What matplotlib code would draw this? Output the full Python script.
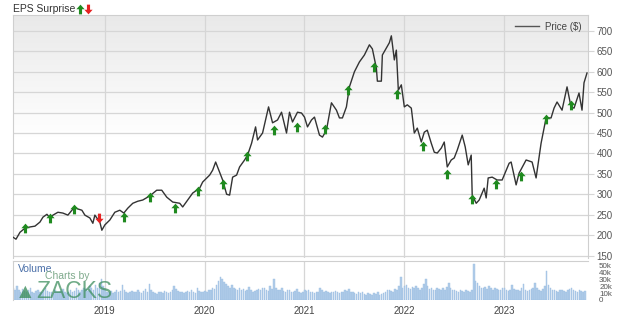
import matplotlib.pyplot as plt
import numpy as np
from matplotlib.path import Path
from matplotlib.colors import LinearSegmentedColormap

plt.rcParams['font.family'] = ['Liberation Sans', 'DejaVu Sans']

# price line (date as fractional year, price in $)
price_dates = [
    2018.08, 2018.11, 2018.15, 2018.20, 2018.25, 2018.30, 2018.35, 2018.38, 2018.42, 2018.45,
    2018.48, 2018.53, 2018.58, 2018.63, 2018.67, 2018.70, 2018.73, 2018.77, 2018.80, 2018.85,
    2018.88, 2018.90, 2018.92, 2018.95, 2018.97, 2019.00, 2019.05, 2019.10, 2019.15, 2019.19,
    2019.23, 2019.28, 2019.33, 2019.38, 2019.45, 2019.52, 2019.57, 2019.62, 2019.68, 2019.75,
    2019.78, 2019.83, 2019.88, 2019.95, 2019.98, 2020.05, 2020.08, 2020.11, 2020.15, 2020.18,
    2020.22, 2020.25, 2020.28, 2020.32, 2020.35, 2020.40, 2020.43, 2020.47, 2020.51, 2020.53,
    2020.58, 2020.64, 2020.68, 2020.73, 2020.77, 2020.82, 2020.85, 2020.88, 2020.93, 2020.97,
    2021.00, 2021.03, 2021.07, 2021.10, 2021.15, 2021.18, 2021.22, 2021.27, 2021.32, 2021.35,
    2021.38, 2021.42, 2021.45, 2021.50, 2021.55, 2021.60, 2021.65, 2021.68, 2021.72, 2021.73,
    2021.77, 2021.78, 2021.82, 2021.85, 2021.87, 2021.90, 2021.92, 2021.94, 2021.97, 2022.00,
    2022.03, 2022.07, 2022.10, 2022.13, 2022.17, 2022.20, 2022.23, 2022.27, 2022.30, 2022.33,
    2022.37, 2022.40, 2022.43, 2022.47, 2022.50, 2022.53, 2022.58, 2022.61, 2022.64, 2022.67,
    2022.68, 2022.72, 2022.75, 2022.80, 2022.82, 2022.84, 2022.88, 2022.93, 2022.98, 2023.05,
    2023.07, 2023.12, 2023.15, 2023.22, 2023.28, 2023.32, 2023.37, 2023.42, 2023.47, 2023.50,
    2023.53, 2023.58, 2023.63, 2023.67, 2023.70, 2023.75, 2023.78, 2023.80, 2023.83,
]
price_values = [
    195, 190, 207, 217, 220, 222, 232, 244, 251, 242,
    249, 256, 254, 249, 261, 269, 264, 261, 249, 242,
    229, 249, 242, 232, 212, 225, 237, 256, 261, 254,
    266, 278, 283, 286, 296, 310, 310, 293, 281, 278,
    269, 286, 303, 315, 330, 347, 359, 379, 354, 335,
    300, 298, 342, 347, 367, 384, 396, 425, 465, 433,
    450, 514, 475, 482, 501, 450, 501, 477, 501, 499,
    489, 465, 482, 489, 445, 440, 457, 524, 506, 487,
    487, 514, 563, 600, 624, 641, 666, 656, 609, 577,
    577, 641, 658, 671, 688, 629, 653, 555, 568, 514,
    519, 511, 450, 462, 428, 452, 457, 425, 403, 401,
    413, 428, 367, 384, 389, 408, 445, 416, 372, 396,
    298, 278, 286, 315, 291, 340, 342, 335, 335, 376,
    379, 323, 352, 384, 379, 340, 425, 487, 487, 511,
    526, 506, 563, 514, 511, 548, 506, 573, 597,
]

# EPS surprise markers
beat_dates = [2018.20, 2018.45, 2018.69, 2019.19, 2019.45, 2019.70, 2019.93, 2020.18,
              2020.42, 2020.69, 2020.92, 2021.21, 2021.44, 2021.70, 2021.93, 2022.19,
              2022.43, 2022.68, 2022.92, 2023.17, 2023.42, 2023.67]
beat_values = [217, 242, 264, 244, 293, 266, 308, 325,
               394, 457, 465, 460, 555, 612, 546, 418,
               350, 288, 325, 345, 484, 519]
miss_dates = [2018.94]
miss_values = [242]

# weekly volume (thousands)
vol_2018 = [18, 15, 20, 14, 12, 16, 13, 11, 14, 17, 12, 10, 13, 15, 11, 12, 14, 18, 13, 11,
            12, 10, 14, 12, 11, 13, 16, 12, 10, 11, 14, 12, 13, 17, 15, 12, 14, 18, 16, 13,
            20, 17, 15, 22, 18, 25, 30, 21]
vol_2019 = [16, 12, 11, 13, 10, 12, 14, 11, 13, 22, 15, 12, 10, 11, 13, 12, 11, 14, 12, 10,
            13, 16, 12, 24, 14, 11, 10, 9, 12, 11, 10, 13, 12, 10, 11, 14, 20, 16, 13, 12,
            11, 10, 12, 13, 11, 14, 12, 10, 18, 13, 12, 11]
vol_2020 = [13, 12, 15, 14, 17, 16, 22, 28, 33, 30, 26, 24, 20, 18, 22, 17, 16, 15, 18, 14,
            16, 13, 15, 19, 14, 12, 13, 15, 16, 14, 18, 17, 15, 13, 20, 16, 30, 18, 15, 14,
            17, 13, 12, 15, 14, 12, 11, 13, 16, 12, 10, 12]
vol_2021 = [15, 13, 14, 12, 11, 10, 12, 11, 17, 14, 12, 13, 11, 10, 12, 11, 13, 12, 10, 11,
            12, 14, 13, 16, 12, 11, 10, 9, 11, 10, 12, 9, 8, 10, 9, 8, 10, 9, 11, 8,
            9, 10, 12, 14, 15, 13, 12, 16, 14, 20, 33, 18]
vol_2022 = [20, 22, 18, 16, 19, 17, 21, 18, 15, 17, 24, 30, 20, 16, 18, 15, 14, 17, 16, 15,
            18, 14, 19, 25, 17, 15, 14, 13, 12, 14, 13, 12, 14, 13, 12, 15, 52, 28, 25, 20,
            18, 17, 19, 16, 20, 17, 15, 18, 16, 14, 15, 17]
vol_2023 = [18, 14, 13, 15, 22, 16, 14, 15, 13, 17, 24, 15, 13, 14, 16, 18, 25, 17, 14, 13,
            16, 20, 43, 22, 18, 15, 14, 13, 12, 15, 14, 13, 12, 14, 16, 18, 15, 13, 12, 14,
            13, 12, 13]

years = [2019, 2020, 2021, 2022, 2023]
price_ticks = [150, 200, 250, 300, 350, 400, 450, 500, 550, 600, 650, 700]
vol_ticks = [0, 10, 20, 30, 40, 50]
vol_labels = ['0', '10k', '20k', '30k', '40k', '50k']

volume = vol_2018 + vol_2019 + vol_2020 + vol_2021 + vol_2022 + vol_2023
vol_dates = 2018.08 + np.arange(len(volume)) / 52.0

W, H = 620, 318
x0, x1 = 2018.08, 2023.84

up_arrow = Path([(0, 1), (-0.85, 0.05), (-0.32, 0.05), (-0.32, -1), (0.32, -1),
                 (0.32, 0.05), (0.85, 0.05), (0, 1)])
down_arrow = Path([(x, -y) for x, y in up_arrow.vertices])
green = '#1f8a1f'
red = '#e52222'
grid_c = '#d6d6d6'

fig = plt.figure(figsize=(W / 100, H / 100), dpi=100)
fig.patch.set_facecolor('white')

ax = fig.add_axes([13 / W, 1 - 258 / H, 575 / W, 243 / H])
axv = fig.add_axes([13 / W, 1 - 300 / H, 575 / W, 39 / H])

# gradient background on the price panel
grad = np.linspace(0, 1, 256).reshape(-1, 1)
ax.imshow(grad, extent=[0, 1, 0, 1], transform=ax.transAxes, aspect='auto',
          cmap=LinearSegmentedColormap.from_list('g', ['#ffffff', '#ffffff', '#e9e9e9']),
          origin='lower', zorder=0)

ax.plot(price_dates, price_values, color='#333333', lw=1.0, label='Price ($)', zorder=3)
ax.plot(beat_dates, beat_values, linestyle='none', marker=up_arrow, markersize=7,
        color=green, markeredgewidth=0, zorder=4)
ax.plot(miss_dates, miss_values, linestyle='none', marker=down_arrow, markersize=7,
        color=red, markeredgewidth=0, zorder=4)

ax.set_xlim(x0, x1)
ax.set_ylim(144, 739)
ax.set_yticks(price_ticks)
ax.yaxis.tick_right()
ax.tick_params(axis='y', length=4, color=grid_c, labelsize=7, labelcolor='#555555', pad=2)
ax.set_xticks(years)
ax.tick_params(axis='x', length=0, labelbottom=False)
ax.grid(True, color=grid_c, lw=0.9)
ax.set_axisbelow(True)
for s in ['top', 'right', 'left']:
    ax.spines[s].set_color('#cfcfcf')
ax.spines['bottom'].set_visible(False)

leg = ax.legend(loc='upper right', frameon=False, fontsize=7, handlelength=2.4,
                borderaxespad=0.3, handletextpad=0.6)
leg.get_lines()[0].set_color('#555555')
for t in leg.get_texts():
    t.set_color('#444444')

# volume panel
axv.bar(vol_dates, volume, width=0.8 / 52, color='#b0cce9', edgecolor='#9dbfe2',
        linewidth=0.3, zorder=2)
axv.set_xlim(x0, x1)
axv.set_ylim(0, 57)
axv.set_yticks(vol_ticks)
axv.set_yticklabels(vol_labels)
axv.yaxis.tick_right()
axv.tick_params(axis='y', length=0, labelsize=5.8, labelcolor='#555555', pad=8)
axv.set_xticks(years)
axv.set_xticklabels([str(y) for y in years])
axv.tick_params(axis='x', length=0, labelsize=7, labelcolor='#444444', pad=4)
axv.grid(True, axis='x', color=grid_c, lw=0.9)
axv.set_axisbelow(True)
for s in ['right', 'bottom']:
    axv.spines[s].set_visible(False)
axv.spines['top'].set_color('#cfcfcf')
axv.spines['left'].set_color('#cfcfcf')

# header and watermark
fig.text(13 / W, 1 - 9 / H, 'EPS Surprise', fontsize=7.5, color='#333333', va='center')
fig.lines.append(plt.Line2D([80 / W], [1 - 9 / H], marker=up_arrow, markersize=7, color=green,
                            markeredgewidth=0, transform=fig.transFigure))
fig.lines.append(plt.Line2D([88 / W], [1 - 9 / H], marker=down_arrow, markersize=7, color=red,
                            markeredgewidth=0, transform=fig.transFigure))

fig.text(18 / W, 1 - 269 / H, 'Volume', fontsize=7.5, color='#4a6fa8', va='center')
fig.text(45 / W, 1 - 276 / H, 'Charts by', fontsize=7.5, color='#7faa8c', va='center')
fig.text(15 / W, 1 - 292 / H, '\u25B2', fontsize=15, color='#3f8f5f', alpha=0.8, va='center')
fig.text(36 / W, 1 - 292 / H, 'ZACKS', fontsize=16.5, color='#3f8f5f', alpha=0.75, va='center')

fig.savefig('out.png', dpi=100)
